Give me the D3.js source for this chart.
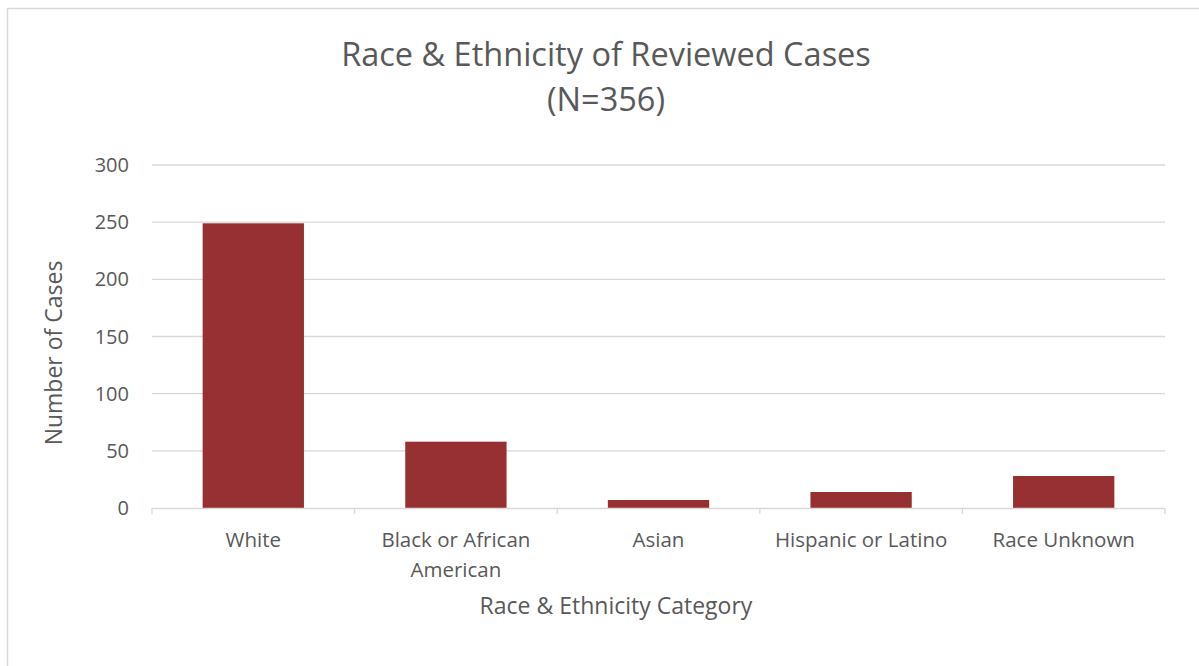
<!DOCTYPE html>
<html>
<head>
    <meta charset="utf-8">
    <title>Race & Ethnicity of Reviewed Cases</title>
    <script src="https://d3js.org/d3.v7.min.js"></script>
    <style>
        body { margin: 0; background: #fff; }
        text { font-family: "Open Sans", sans-serif; fill: #595959; }
        .grid line { stroke: #d9d9d9; stroke-width: 1.3px; }
        .bar { fill: #973032; }
    </style>
</head>
<body>
<svg width="1199" height="666"></svg>
<script>
    // data
    var categories = ["White", "Black or African American", "Asian", "Hispanic or Latino", "Race Unknown"];
    var cases = [249, 58, 7, 14, 28];
    var yTicks = [0, 50, 100, 150, 200, 250, 300];

    var svg = d3.select("svg");

    // light chart border (runs off the right/bottom edges)
    svg.append("rect")
        .attr("x", 7.5).attr("y", 8.5)
        .attr("width", 1300).attr("height", 700)
        .attr("fill", "none")
        .attr("stroke", "#d9d9d9")
        .attr("stroke-width", 1.5);

    var plotL = 152, plotR = 1165, plotT = 165, plotB = 508;

    var x = d3.scaleBand().domain(categories).range([plotL, plotR]).paddingInner(0.5).paddingOuter(0.25);
    var y = d3.scaleLinear().domain([0, 300]).range([plotB, plotT]);

    // gridlines
    svg.append("g").attr("class", "grid")
        .selectAll("line")
        .data(yTicks.slice(1))
        .enter().append("line")
        .attr("x1", plotL).attr("x2", plotR)
        .attr("y1", function (d) { return y(d); })
        .attr("y2", function (d) { return y(d); });

    // y tick labels
    svg.append("g")
        .selectAll("text")
        .data(yTicks)
        .enter().append("text")
        .attr("x", 129)
        .attr("y", function (d) { return y(d); })
        .attr("dy", "0.35em")
        .attr("text-anchor", "end")
        .style("font-size", "20px")
        .text(function (d) { return d; });

    // bars
    svg.selectAll(".bar")
        .data(cases)
        .enter().append("rect")
        .attr("class", "bar")
        .attr("x", function (d, i) { return x(categories[i]); })
        .attr("width", x.bandwidth())
        .attr("y", function (d) { return y(d); })
        .attr("height", function (d) { return y(0) - y(d); });

    // x axis line and category boundary ticks
    var xAxis = svg.append("g").attr("class", "grid");
    xAxis.append("line")
        .attr("x1", plotL).attr("x2", plotR)
        .attr("y1", plotB + 0.5).attr("y2", plotB + 0.5);
    xAxis.selectAll(".tk")
        .data(d3.range(categories.length + 1))
        .enter().append("line")
        .attr("class", "tk")
        .attr("x1", function (i) { return plotL + i * (plotR - plotL) / categories.length; })
        .attr("x2", function (i) { return plotL + i * (plotR - plotL) / categories.length; })
        .attr("y1", plotB).attr("y2", plotB + 6);

    // category labels, wrapped
    function wrap(label) {
        if (label === "Black or African American") return ["Black or African", "American"];
        return [label];
    }
    var catLabels = svg.append("g").selectAll("text")
        .data(categories)
        .enter().append("text")
        .attr("text-anchor", "middle")
        .attr("y", 547)
        .style("font-size", "20.5px");
    catLabels.each(function (d) {
        var t = d3.select(this);
        var cx = x(d) + x.bandwidth() / 2;
        wrap(d).forEach(function (line, k) {
            t.append("tspan").attr("x", cx).attr("dy", k === 0 ? 0 : 30).text(line);
        });
    });

    // axis titles
    svg.append("text")
        .attr("x", 616).attr("y", 614)
        .attr("text-anchor", "middle")
        .style("font-size", "23px")
        .text("Race & Ethnicity Category");

    svg.append("text")
        .attr("transform", "translate(62,353) rotate(-90)")
        .attr("text-anchor", "middle")
        .style("font-size", "23px")
        .text("Number of Cases");

    // title
    var title = svg.append("text")
        .attr("text-anchor", "middle")
        .style("font-size", "32.5px");
    title.append("tspan").attr("x", 606).attr("y", 66).text("Race & Ethnicity of Reviewed Cases");
    title.append("tspan").attr("x", 606).attr("y", 111).text("(N=356)");
</script>
</body>
</html>
